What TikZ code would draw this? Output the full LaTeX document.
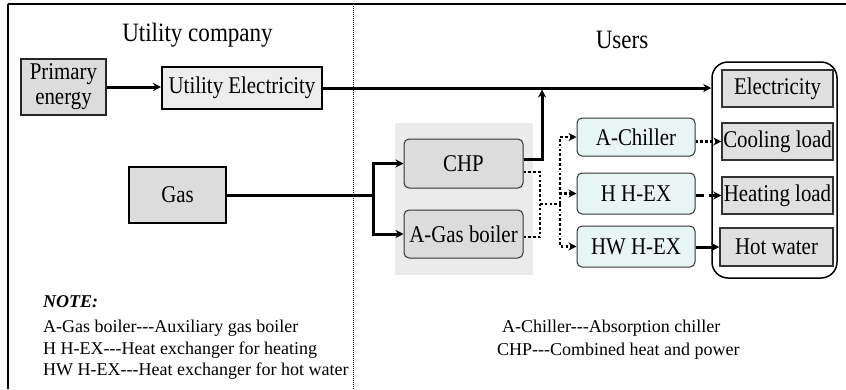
\documentclass[tikz,border=0pt]{standalone}
\usepackage{fontspec}
\setmainfont[FakeStretch=0.87]{Liberation Serif}
\newfontfamily\notefont{Liberation Serif}
\usetikzlibrary{arrows.meta}
\definecolor{boxgray}{HTML}{DCDCDC}
\definecolor{lightgray}{HTML}{EDEDED}
\definecolor{bggray}{HTML}{EBEBEB}
\definecolor{cyanfill}{HTML}{E8F5F5}
\definecolor{loadgray}{HTML}{E0E0E0}
\tikzset{
  big/.style={font=\fontsize{24}{25}\selectfont},
  heading/.style={font=\fontsize{26.5}{27}\selectfont, anchor=base, inner sep=0pt},
  plainbox/.style={draw, big, inner sep=1pt, align=center},
  roundbox/.style={draw=black!80, line width=1pt, rounded corners=5pt, big, inner sep=1pt, align=center},
  arr/.style={line width=3pt, -{Stealth[length=8pt,width=8pt]}},
  solid3/.style={line width=3pt},
  dotline/.style={line width=2.6pt, dash pattern=on 2.6pt off 2.2pt},
  dotarr/.style={dotline, -{Stealth[length=8pt,width=8pt]}},
  dasharr/.style={line width=2.6pt, dash pattern=on 8pt off 5pt, -{Stealth[length=8pt,width=8pt]}},
  notetext/.style={font=\notefont\fontsize{18}{19}\selectfont, anchor=base west, inner sep=0pt}
}
\begin{document}
\begin{tikzpicture}[x=1pt,y=-1pt]
\useasboundingbox (0,0) rectangle (846,389);
% frame
\draw[line width=1.5pt] (8,4) -- (846,4);
\draw[line width=1.2pt] (8,4) -- (8,389);
\draw[line width=0.6pt, dash pattern=on 1pt off 1pt] (353,4) -- (353,389);
% headings
\node[heading] (hutil) at (197.5,41) {Utility company};
\node[heading] (husers) at (622,48) {Users};
% background
\fill[bggray] (395,123) rectangle (533,275);
% boxes
\node[plainbox, fill=boxgray, draw=black!85, line width=1.2pt, minimum width=85pt, minimum height=56pt] (prim) at (63.5,87) {Primary\\energy};
\node[plainbox, fill=lightgray, line width=2pt, minimum width=160pt, minimum height=42pt] (util) at (242,88) {Utility Electricity};
\node[plainbox, fill=boxgray, line width=2pt, minimum width=97pt, minimum height=56pt] (gas) at (177.5,195) {Gas};
\node[roundbox, fill=boxgray, minimum width=119pt, minimum height=49pt] (chp) at (463.5,163.5) {CHP};
\node[roundbox, fill=boxgray, minimum width=119pt, minimum height=48pt] (agb) at (463.5,234) {A-Gas boiler};
\node[roundbox, fill=cyanfill, minimum width=118pt, minimum height=38pt] (ach) at (636,137) {A-Chiller};
\node[roundbox, fill=cyanfill, minimum width=118pt, minimum height=41pt] (hhex) at (636,193.5) {H H-EX};
\node[roundbox, fill=cyanfill, minimum width=118pt, minimum height=41pt] (hwhex) at (636,246.5) {HW H-EX};
% container
\node[draw, line width=1.5pt, rounded corners=16pt, minimum width=125pt, minimum height=216pt] (cont) at (774.5,170) {};
\node[plainbox, fill=loadgray, draw=black!80, line width=1.5pt, minimum width=111pt, minimum height=37pt] (elec) at (777.5,88.5) {Electricity};
\node[plainbox, fill=loadgray, draw=black!80, line width=1.5pt, minimum width=111pt, minimum height=37pt] (cool) at (777.5,141.5) {Cooling load};
\node[plainbox, fill=loadgray, draw=black!80, line width=1.5pt, minimum width=111pt, minimum height=37pt] (heat) at (777.5,195.5) {Heating load};
\node[plainbox, fill=loadgray, draw=black!80, line width=1.5pt, minimum width=113pt, minimum height=38pt] (hot) at (776.5,247) {Hot water};
% connectors
\draw[arr] (prim.east) -- (prim.east -| util.west);
\draw[arr] (util.east) -- (util.east -| cont.west);
\coordinate (ej) at (542,89.5);
\draw[arr] ([yshift=4.5pt]chp.east) -| (ej);
\coordinate (gj) at (373,195);
\draw[solid3] (gas.east) -- (gj);
\draw[arr] (gj) |- (chp.west);
\draw[arr] (gj) |- (agb.west);
\coordinate (dj) at (540,204);
\coordinate (dv) at (560,204);
\draw[dotline] ([yshift=-8.5pt]chp.east) -| (dj);
\draw[dotline] ([yshift=-3pt]agb.east) -| (dj);
\draw[dotline] (dj) -- (dv);
\draw[dotarr] (dv) |- (ach.west);
\draw[dotarr] (dv) |- (hhex.west);
\draw[dotarr] (dv) |- (hwhex.west);
\draw[dotarr] (cool.west -| ach.east) -- (cool.west);
\draw[dasharr] (heat.west -| hhex.east) -- (heat.west);
\draw[arr] (hot.west -| hwhex.east) -- (hot.west);
% notes
\node[notetext, font=\notefont\fontsize{18}{19}\selectfont\bfseries\itshape] (note) at (43,307) {NOTE:};
\node[notetext] (n1) at (43,332) {A-Gas boiler-{}-{}-Auxiliary gas boiler};
\node[notetext] (n2) at (43,354) {H H-EX-{}-{}-Heat exchanger for heating};
\node[notetext] (n3) at (43,375.5) {HW H-EX-{}-{}-Heat exchanger for hot water};
\node[notetext] (n4) at (502,332) {A-Chiller-{}-{}-Absorption chiller};
\node[notetext] (n5) at (497,355) {CHP-{}-{}-Combined heat and power};
\end{tikzpicture}
\end{document}
